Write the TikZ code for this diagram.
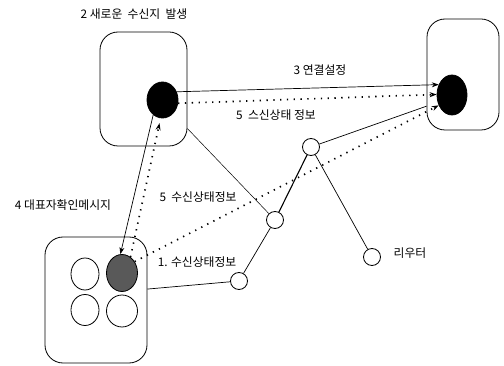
\documentclass[tikz,border=0pt]{standalone}
\usepackage{fontspec}
\setmainfont{Noto Sans CJK KR}
\usetikzlibrary{shapes.geometric,arrows.meta}
\begin{document}
\begin{tikzpicture}[x=1pt,y=-1pt,
  hostbox/.style={draw,rounded corners=18pt,line width=0.8pt,inner sep=0pt},
  ell/.style={draw,ellipse,line width=0.8pt,inner sep=0pt},
  router/.style={draw,circle,line width=0.8pt,inner sep=0pt,minimum size=17pt,fill=white},
  lbl/.style={font=\fontsize{11.8}{13}\selectfont,inner sep=0pt},
  link/.style={line width=0.7pt},
  dotline/.style={line width=1.7pt,dash pattern=on 1.3pt off 5.5pt},
  tip/.style={-{Stealth[length=7pt,width=5pt]}}]
\useasboundingbox (0,0) rectangle (504,366);
% hosts
\node[hostbox,minimum width=87pt,minimum height=114pt] (boxA) at (143.5,89) {};
\node[hostbox,minimum width=72pt,minimum height=111pt] (boxB) at (463,74.5) {};
\node[hostbox,minimum width=102pt,minimum height=126pt] (boxC) at (96,300) {};
% ellipses
\node[ell,fill=black,minimum width=31pt,minimum height=36pt] (eA) at (162.5,100) {};
\node[ell,fill=black,minimum width=30pt,minimum height=40pt] (eB) at (452,95) {};
\node[ell,fill=black!65,minimum width=31pt,minimum height=37pt] (eG) at (122,273) {};
\node[ell,minimum width=28pt,minimum height=32pt] (e1) at (85,274) {};
\node[ell,minimum width=28pt,minimum height=31pt] (e2) at (85,310) {};
\node[ell,minimum width=31pt,minimum height=32pt] (e3) at (122,311) {};
% routers
\node[router] (R1) at (239,281) {};
\node[router] (R2) at (275,220) {};
\node[router] (R3) at (311,147) {};
\node[router] (R4) at (372,257) {};
\draw[link] (boxC.12) -- (R1);
\draw[link] (R1) -- (R2);
\draw[line width=1.1pt] (R2) -- (R3);
\draw[link] (R3) -- (R4);
\draw[link] (R3) -- (boxB.221);
\draw[line width=0.5pt] (boxA.-42) -- (R2);
% messages
\draw[link,tip] (eA.30) -- (eB.142);
\draw[dotline,tip] (eA.-12) -- (eB.178);
\draw[dotline,tip] (eG.42) -- (eB.218);
\draw[link,tip] (eA.238) -- (eG.95);
\draw[dotline,tip,shorten >=5pt] (eG.62) -- (eA.264);
% labels
\node[lbl] (t2) at (134,14) {2 새로운\ \ 수신지\ \ 발생};
\node[lbl] (t3) at (320,70) {3 연결설정};
\node[lbl] (t5a) at (276,115) {5\ \ 스신상태 정보};
\node[lbl] (t4) at (63,205) {4 대표자확인메시지};
\node[lbl] (t5b) at (198,197) {5\ \ 수신상태정보};
\node[lbl] (t1) at (197,262) {1. 수신상태정보};
\node[lbl] (tR) at (410,253) {리우터};
\end{tikzpicture}
\end{document}
